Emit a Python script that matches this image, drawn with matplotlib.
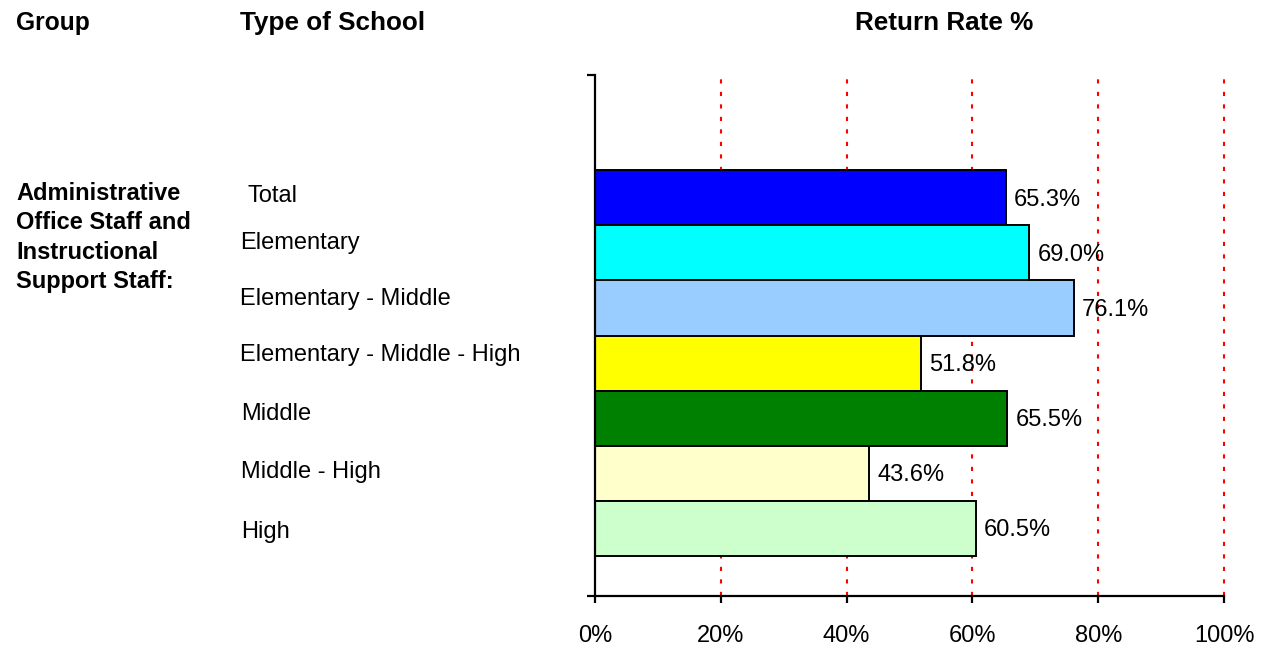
import matplotlib
matplotlib.use("Agg")
import matplotlib.pyplot as plt

plt.rcParams['font.family'] = ['Liberation Sans', 'DejaVu Sans']

# data
school_types = ["Total", "Elementary", "Elementary - Middle",
                "Elementary - Middle - High", "Middle", "Middle - High", "High"]
return_rate = [65.3, 69.0, 76.1, 51.8, 65.5, 43.6, 60.5]
bar_colors = ["#0000FF", "#00FFFF", "#99CCFF", "#FFFF00",
              "#008000", "#FFFFCC", "#CCFFCC"]
group_name = "Administrative\nOffice Staff and\nInstructional\nSupport Staff:"
x_ticks = [0, 20, 40, 60, 80, 100]

# layout: label heights in pixels (from top), label x
W, H = 1266, 650
label_px_y = [196, 243, 299, 355, 414, 472, 532]
label_px_x = [247, 240, 240, 240, 241, 241, 241]

fig = plt.figure(figsize=(W / 100, H / 100), dpi=100)
ax = fig.add_axes([595 / W, 1 - 596 / H, (1224 - 595) / W, (596 - 74.5) / H])

n = len(school_types)
ypos = [n - 1 - i for i in range(n)]

ax.barh(ypos, return_rate, height=1.0, color=bar_colors,
        edgecolor="black", linewidth=1.4, zorder=3)

for y, v in zip(ypos, return_rate):
    ax.annotate(f"{v:.1f}%", (v, y), xytext=(6, -1.5), textcoords="offset points",
                ha="left", va="center", fontsize=17, zorder=5)

ax.set_xlim(0, 100)
ax.set_ylim(-1.23, n - 0.5 + 1.74)
ax.set_xticks(x_ticks)
ax.set_xticklabels([f"{t}%" for t in x_ticks], fontsize=17)
ax.set_yticks([ax.get_ylim()[0], ax.get_ylim()[1]])
ax.set_yticklabels([])

for t in x_ticks[1:]:
    ax.axvline(t, color="red", linewidth=1.5, linestyle=(0, (2, 4)),
               zorder=1, clip_on=False)

for s in ["top", "right"]:
    ax.spines[s].set_visible(False)
for s in ["left", "bottom"]:
    ax.spines[s].set_linewidth(1.6)
    ax.spines[s].set_zorder(4)
ax.tick_params(axis="x", direction="out", length=5, width=1.6, pad=16)
ax.tick_params(axis="y", direction="out", length=6, width=1.6)

# headers
fig.text(16 / W, 1 - 23 / H, "Group", fontsize=17.7, fontweight="bold",
         ha="left", va="center")
fig.text(240 / W, 1 - 23 / H, "Type of School", fontsize=18.8, fontweight="bold",
         ha="left", va="center")
fig.text(944 / W, 1 - 23 / H, "Return Rate %", fontsize=18.8, fontweight="bold",
         ha="center", va="center")

fig.text(16 / W, 1 - 182 / H, group_name, fontsize=17, fontweight="bold",
         ha="left", va="top", linespacing=1.36)

for name, px, py in zip(school_types, label_px_x, label_px_y):
    fig.text(px / W, 1 - py / H, name, fontsize=17, ha="left", va="center")

fig.savefig("out.png", dpi=100)
